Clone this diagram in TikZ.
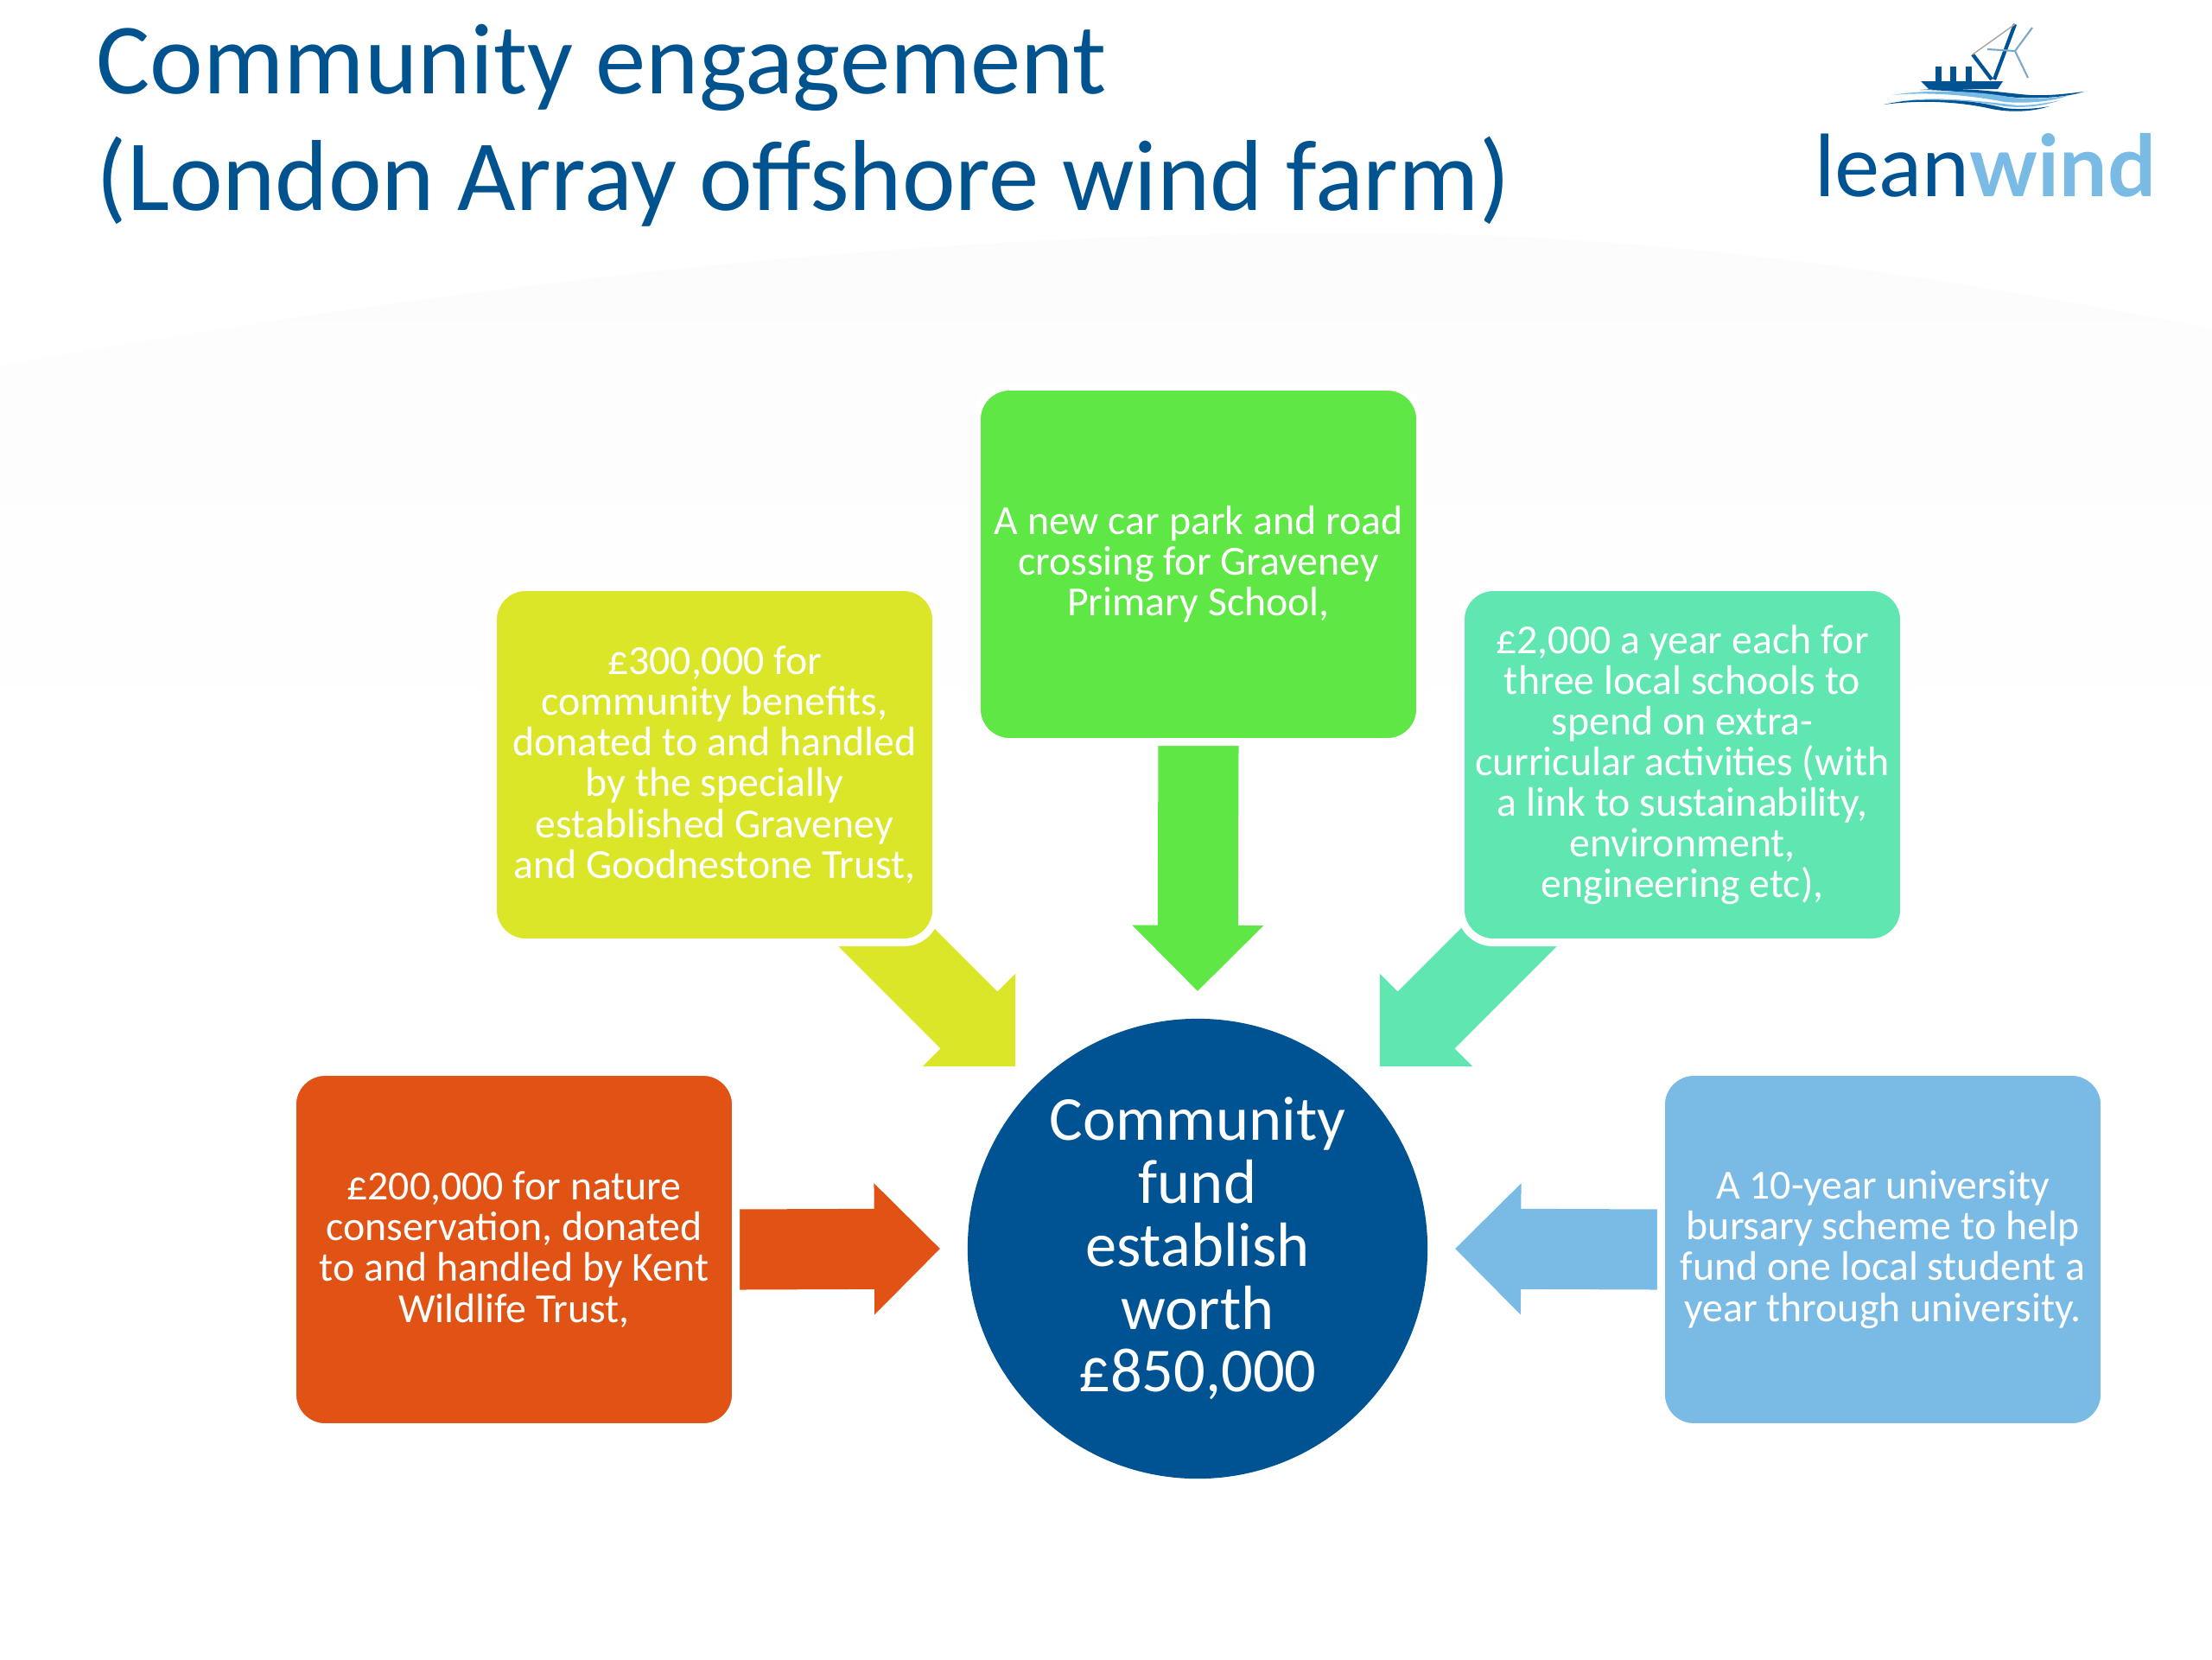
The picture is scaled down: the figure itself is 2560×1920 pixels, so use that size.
\documentclass[tikz,border=0pt]{standalone}
\usepackage{amsmath}
\usepackage{fontspec}
\usepackage{tikz}
\usetikzlibrary{calc,backgrounds}
\setmainfont{Carlito}
\newfontfamily\logofont{Lato}
\definecolor{titleblue}{HTML}{00538F}
\definecolor{fundblue}{HTML}{005393}
\definecolor{skyblue}{HTML}{7ABBE6}
\definecolor{limeyellow}{HTML}{DBE628}
\definecolor{brightgreen}{HTML}{5FE745}
\definecolor{seagreen}{HTML}{60E7B1}
\definecolor{burntorange}{HTML}{E05315}
\definecolor{palearc}{HTML}{FCFCFC}
\tikzset{
	fundbox/.style={draw=white, line width=.09cm, rounded corners=.38cm, outer sep=0pt, minimum width=5.13cm, minimum height=4.11cm, text=white, align=center, inner sep=0pt, font=\fontsize{13.6}{13.4}\selectfont},
}
\newcommand{\blockarrow}[3]{
	\fill[#1] let \p1=(#2), \p2=(#3), \n1={atan2(\y2-\y1,\x2-\x1)}, \n2={veclen(\x2-\x1,\y2-\y1)} in
	[shift={(#3)},rotate=\n1] (0,0) -- (-.76cm,.76cm) -- (-.76cm,.465cm) -- (-\n2,.465cm) -- (-\n2,-.465cm) -- (-.76cm,-.465cm) -- (-.76cm,-.76cm) -- cycle;
}
\begin{document}
\begin{tikzpicture}[x=.01cm, y=-.01cm]
	\useasboundingbox (0,0) rectangle (2560,1920);

	\node[anchor=north west, text=titleblue, align=left, inner sep=0pt, font=\fontsize{33.2}{38.4}\selectfont] (title) at (111,27) {Community engagement\\(London Array offshore wind farm)};

	\node[circle, fill=fundblue, minimum size=5.32cm, inner sep=0pt, text=white, align=center, font=\fontsize{20.6}{20.7}\selectfont] (fund) at (1386,1445) {Community\\fund\\establish\\worth\\£850,000};

	\node[fundbox, fill=brightgreen] (greenbox) at (1387,653) {A new car park and road\\crossing for Graveney\\Primary School,};
	\node[fundbox, fill=limeyellow] (yellowbox) at (827,885) {£300,000 for\\community benefits,\\donated to and handled\\by the specially\\established Graveney\\and Goodnestone Trust,};
	\node[fundbox, fill=seagreen] (tealbox) at (1947,885) {£2,000 a year each for\\three local schools to\\spend on extra-\\curricular activities (with\\a link to sustainability,\\environment,\\engineering etc),};
	\node[fundbox, fill=burntorange] (orangebox) at (595,1446) {£200,000 for nature\\conservation, donated\\to and handled by Kent\\Wildlife Trust,};
	\node[fundbox, fill=skyblue] (bluebox) at (2179,1446) {A 10-year university\\bursary scheme to help\\fund one local student a\\year through university.};

	\coordinate (tipgreen) at ($(fund.center)+(90:2.98cm)$);
	\coordinate (tipyellow) at ($(fund.center)+(135:2.98cm)$);
	\coordinate (tipteal) at ($(fund.center)+(45:2.98cm)$);
	\coordinate (tiporange) at ($(fund.center)+(180:2.98cm)$);
	\coordinate (tipblue) at ($(fund.center)+(0:2.98cm)$);
	\coordinate (tailyellow) at ($(tipyellow)+(-190,-190)$);
	\coordinate (tailteal) at ($(tipteal)+(190,-190)$);

	\begin{pgfonlayer}{background}
		\shade[top color=palearc, bottom color=white] (0,423) .. controls (700,300) and (1200,265) .. (1630,270) .. controls (2000,275) and (2350,340) .. (2560,380) -- (2560,900) -- (0,900) -- cycle;
		\blockarrow{brightgreen}{greenbox.south}{tipgreen}
		\blockarrow{limeyellow}{tailyellow}{tipyellow}
		\blockarrow{seagreen}{tailteal}{tipteal}
		\blockarrow{burntorange}{orangebox.east}{tiporange}
		\blockarrow{skyblue}{bluebox.west}{tipblue}
	\end{pgfonlayer}

	% logo
	\node[anchor=base west, inner sep=0pt, font=\logofont\fontsize{28}{28}\selectfont] (logotext) at (2100,227) {\textcolor{fundblue}{lean}\textcolor{skyblue}{\bfseries wind}};
	\fill[fundblue] (2223,94) -- (2318,94) -- (2312,103) -- (2232,103) -- cycle;
	\foreach \x in {2240,2257,2275} {
		\fill[fundblue] (\x,77) rectangle (\x+7,94);
	}
	\draw[fundblue, line width=1.2pt] (2308,92) -- (2332,28);
	\draw[fundblue, line width=1.2pt] (2283,63) -- (2305,92);
	\draw[gray!70, line width=.4pt] (2283,63) -- (2332,28);
	\draw[skyblue!70!gray, line width=.6pt] (2332,59) -- (2352,32) (2332,59) -- (2347,90) (2332,59) -- (2300,57);
	\fill[fundblue] (2222,104) .. controls (2280,100) and (2320,108) .. (2350,110) .. controls (2375,111) and (2395,108) .. (2412,106) .. controls (2390,113) and (2360,114) .. (2335,113) .. controls (2300,110) and (2260,104) .. (2222,104);
	\fill[skyblue] (2190,110) .. controls (2230,103) and (2290,105) .. (2330,113) .. controls (2350,115) and (2375,114) .. (2395,110) .. controls (2375,118) and (2345,120) .. (2320,118) .. controls (2280,110) and (2230,106) .. (2190,110);
	\fill[fundblue] (2180,121) .. controls (2230,110) and (2280,115) .. (2320,125) .. controls (2335,127) and (2355,126) .. (2372,123) .. controls (2350,130) and (2325,130) .. (2305,126) .. controls (2270,118) and (2225,115) .. (2180,121);
	\fill[skyblue] (2200,117) .. controls (2250,111) and (2300,118) .. (2335,122) .. controls (2350,122) and (2365,120) .. (2385,116) .. controls (2360,124) and (2340,125) .. (2320,123) .. controls (2280,116) and (2240,114) .. (2200,117);
\end{tikzpicture}
\end{document}
